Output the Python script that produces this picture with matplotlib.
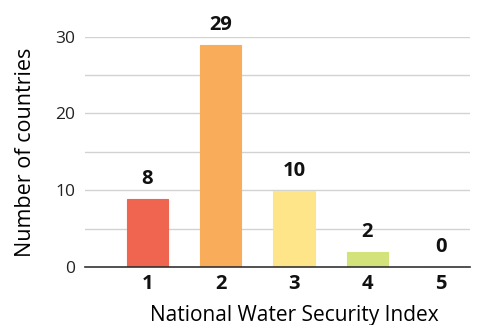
import matplotlib
matplotlib.use("Agg")
import matplotlib.pyplot as plt

# Values
index_levels = [1, 2, 3, 4, 5]
bar_heights = [8.9, 28.9, 9.9, 2.0, 0.0]
count_labels = ["8", "29", "10", "2", "0"]
bar_colors = ["#F0654F", "#F9AC5A", "#FFE589", "#D3E27B", "#4BA3A8"]
y_ticks = [0, 10, 20, 30]
grid_levels = [5, 10, 15, 20, 25, 30]

plt.rcParams["font.family"] = ["Open Sans", "DejaVu Sans"]

fig = plt.figure(figsize=(4.84, 3.25), dpi=100)
ax = fig.add_axes([85 / 484, 1 - 267 / 325, 385 / 484, 230 / 325 + 0.001])

for level in grid_levels:
    ax.axhline(level, color="#d2d2d2", linewidth=1.0, zorder=0)

bars = ax.bar(index_levels, bar_heights, width=0.56, color=bar_colors, zorder=2,
              edgecolor=bar_colors, linewidth=0.8)

for bar, text in zip(bars, count_labels):
    ax.annotate(text, (bar.get_x() + bar.get_width() / 2, bar.get_height()),
                xytext=(0, 7), textcoords="offset points", ha="center", va="bottom",
                fontsize=14.5, fontweight="bold", color="#111111")

ax.set_xlim(0.15, 5.4)
ax.set_ylim(0, 30)
ax.set_xticks(index_levels)
ax.set_xticklabels([str(v) for v in index_levels], fontweight="bold", fontsize=14.5)
ax.set_yticks(y_ticks)
ax.tick_params(axis="y", length=0, labelsize=12.5, pad=7, colors="#222222")
ax.tick_params(axis="x", length=0, pad=5, colors="#111111")

for side in ["top", "right", "left"]:
    ax.spines[side].set_visible(False)
ax.spines["bottom"].set_color("#333333")
ax.spines["bottom"].set_linewidth(1.2)
ax.spines["bottom"].set_zorder(3)

ax.set_xlabel("National Water Security Index", fontsize=15)
ax.xaxis.set_label_coords(0.543, -0.163)
ax.set_ylabel("Number of countries", fontsize=15.5, labelpad=14)

fig.savefig("out.png", dpi=100)
